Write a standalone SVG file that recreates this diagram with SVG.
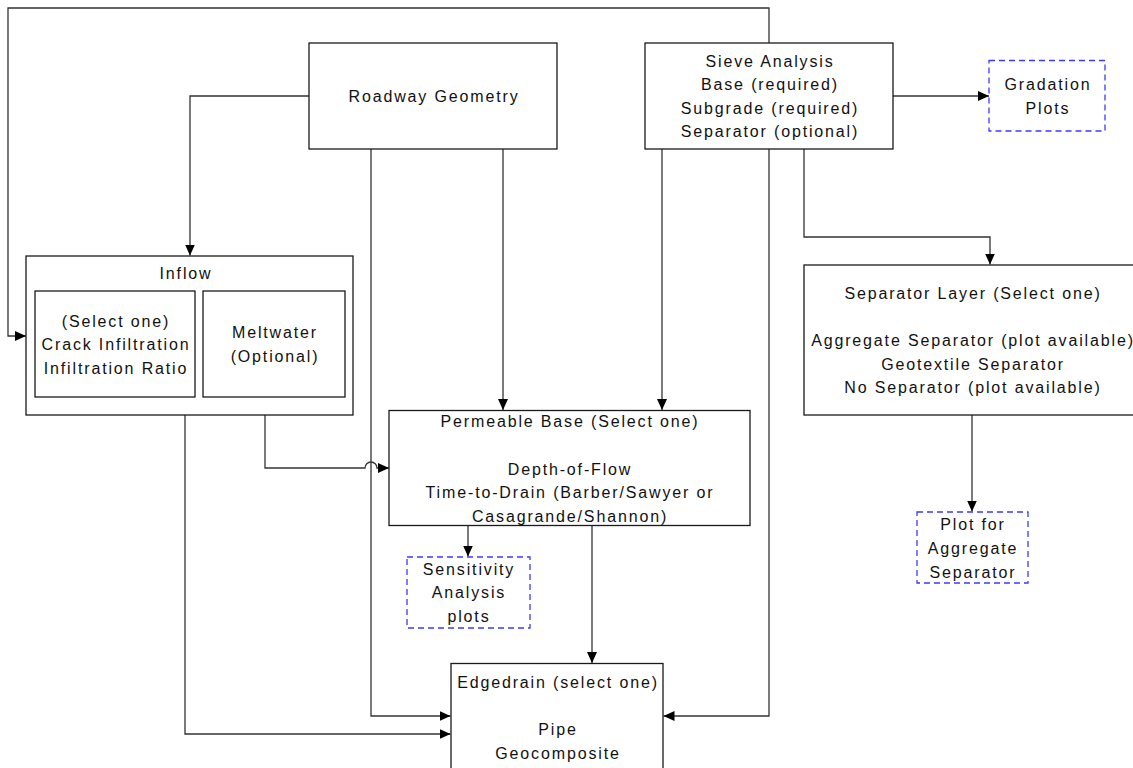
<svg xmlns="http://www.w3.org/2000/svg" width="1133" height="768" viewBox="0 0 1133 768">
<style>
.box{fill:#fff;stroke:#1a1a1a;stroke-width:1.3}
.dash{fill:#fff;stroke:#3a3aff;stroke-width:1.3;stroke-dasharray:6,4}
.t{font-family:"Liberation Sans",Arial,sans-serif;font-size:16px;letter-spacing:1.85px;fill:#111;text-anchor:middle}
.c{fill:none;stroke:#333;stroke-width:1.3}
</style>
<defs>
<marker id="ah" markerWidth="12" markerHeight="10" refX="11" refY="5" orient="auto" markerUnits="userSpaceOnUse">
<path d="M0,0 L11,5 L0,10 Z" fill="#000"/>
</marker>
</defs>
<rect width="1133" height="768" fill="#fff"/>
<g id="connectors">
<path class="c" d="M769,43 V8 H8 V336 H26" marker-end="url(#ah)"/>
<path class="c" d="M309,96 H190 V255.5" marker-end="url(#ah)"/>
<path class="c" d="M503,149 V410" marker-end="url(#ah)"/>
<path class="c" d="M371,149 V716 H450.5" marker-end="url(#ah)"/>
<path class="c" d="M662,149 V410" marker-end="url(#ah)"/>
<path class="c" d="M769,149 V716 H663.5" marker-end="url(#ah)"/>
<path class="c" d="M893,96 H989" marker-end="url(#ah)"/>
<path class="c" d="M804,149 V237 H990 V264.5" marker-end="url(#ah)"/>
<path class="c" d="M972,415 V511.5" marker-end="url(#ah)"/>
<path class="c" d="M185,415 V734 H450.5" marker-end="url(#ah)"/>
<path class="c" d="M265,415 V468 H365 A6,6 0 0 1 377,468 H389" marker-end="url(#ah)"/>
<path class="c" d="M468,526 V556.5" marker-end="url(#ah)"/>
<path class="c" d="M592,526 V663" marker-end="url(#ah)"/>
</g>
<g id="roadway">
<rect class="box" x="309" y="43" width="248" height="106"/>
<text class="t" x="434" y="102">Roadway Geometry</text>
</g>
<g id="sieve">
<rect class="box" x="645" y="43" width="248" height="106"/>
<text class="t" x="770" y="67">Sieve Analysis</text>
<text class="t" x="770" y="90">Base (required)</text>
<text class="t" x="770" y="113.5">Subgrade (required)</text>
<text class="t" x="770" y="137">Separator (optional)</text>
</g>
<g id="gradation">
<rect class="dash" x="989" y="60.5" width="116" height="70.5"/>
<text class="t" x="1048" y="90">Gradation</text>
<text class="t" x="1048" y="114">Plots</text>
</g>
<g id="inflow">
<rect class="box" x="26" y="256" width="327" height="159"/>
<text class="t" x="186" y="279">Inflow</text>
<g id="inflow-select">
<rect class="box" x="35" y="291" width="160" height="106"/>
<text class="t" x="116" y="327">(Select one)</text>
<text class="t" x="116" y="350">Crack Infiltration</text>
<text class="t" x="116" y="373.5">Infiltration Ratio</text>
</g>
<g id="meltwater">
<rect class="box" x="203" y="291" width="142" height="106"/>
<text class="t" x="275" y="337.5">Meltwater</text>
<text class="t" x="275" y="361.5">(Optional)</text>
</g>
</g>
<g id="separator-layer">
<rect class="box" x="804" y="265" width="340" height="150"/>
<text class="t" x="973" y="299">Separator Layer (Select one)</text>
<text class="t" x="973" y="346">Aggregate Separator (plot available)</text>
<text class="t" x="973" y="370">Geotextile Separator</text>
<text class="t" x="973" y="393">No Separator (plot available)</text>
</g>
<g id="permeable">
<rect class="box" x="389" y="410.5" width="361" height="115"/>
<text class="t" x="570" y="426.5">Permeable Base (Select one)</text>
<text class="t" x="570" y="475">Depth-of-Flow</text>
<text class="t" x="570" y="497.5">Time-to-Drain (Barber/Sawyer or</text>
<text class="t" x="570" y="521.5">Casagrande/Shannon)</text>
</g>
<g id="sensitivity">
<rect class="dash" x="407" y="557" width="123" height="71"/>
<text class="t" x="469" y="575">Sensitivity</text>
<text class="t" x="469" y="598">Analysis</text>
<text class="t" x="469" y="622">plots</text>
</g>
<g id="plot-aggregate">
<rect class="dash" x="917" y="512" width="111" height="71"/>
<text class="t" x="973" y="530">Plot for</text>
<text class="t" x="973" y="553.5">Aggregate</text>
<text class="t" x="973" y="577.5">Separator</text>
</g>
<g id="edgedrain">
<rect class="box" x="451" y="663.5" width="212" height="120"/>
<text class="t" x="558" y="688">Edgedrain (select one)</text>
<text class="t" x="558" y="735">Pipe</text>
<text class="t" x="558" y="758.5">Geocomposite</text>
</g>
</svg>
